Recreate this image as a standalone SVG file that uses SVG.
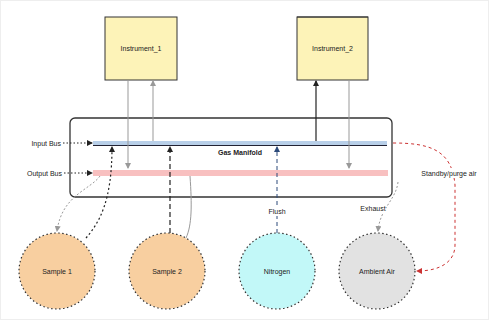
<svg xmlns="http://www.w3.org/2000/svg" width="489" height="320" viewBox="0 0 489 320">
  <style>
    text { font-family: "Liberation Sans", Arial, sans-serif; font-size: 7px; fill: #222; }
    .instr { fill: #fdf3b8; stroke: #333; stroke-width: 1; }
    .sample { stroke: #333; stroke-width: 1.2; stroke-dasharray: 1.5 2.5; }
    .gray { fill: none; stroke: #999; stroke-width: 1; }
    .dark { fill: none; stroke: #222; stroke-width: 1.2; }
  </style>
  <defs>
    <marker id="ag" markerWidth="6" markerHeight="6" refX="5" refY="3" orient="auto" markerUnits="userSpaceOnUse">
      <path d="M0,0 L6,3 L0,6 z" fill="#999"/>
    </marker>
    <marker id="ad" markerWidth="6" markerHeight="6" refX="5" refY="3" orient="auto" markerUnits="userSpaceOnUse">
      <path d="M0,0 L6,3 L0,6 z" fill="#222"/>
    </marker>
    <marker id="ab" markerWidth="6" markerHeight="6" refX="5" refY="3" orient="auto" markerUnits="userSpaceOnUse">
      <path d="M0,0 L6,3 L0,6 z" fill="#2c4a7a"/>
    </marker>
    <marker id="ar" markerWidth="6" markerHeight="6" refX="5" refY="3" orient="auto" markerUnits="userSpaceOnUse">
      <path d="M0,0 L6,3 L0,6 z" fill="#c33"/>
    </marker>
  </defs>

  <rect width="489" height="320" fill="#fff" stroke="#eee" stroke-width="2"/>

  <!-- manifold enclosure and buses -->
  <g id="manifold">
    <rect x="70" y="118" width="322" height="79" rx="5" fill="none" stroke="#333" stroke-width="1.3"/>
    <rect x="93" y="141" width="294" height="4" fill="#b8cfe8"/>
    <line x1="93" y1="145.5" x2="387" y2="145.5" stroke="#223" stroke-width="1"/>
    <rect x="93" y="170" width="295" height="6" fill="#f8c0c0"/>
    <text x="240" y="155" text-anchor="middle" font-weight="bold">Gas Manifold</text>
  </g>

  <g id="input_bus_label">
    <text x="61" y="145.5" text-anchor="end">Input Bus</text>
  </g>
  <g id="output_bus_label">
    <text x="62" y="175.5" text-anchor="end">Output Bus</text>
  </g>

  <g id="instrument_1">
    <rect class="instr" x="105" y="17" width="72" height="63"/>
    <text x="141" y="51" text-anchor="middle">Instrument_1</text>
  </g>
  <g id="instrument_2">
    <rect class="instr" x="297" y="17" width="71" height="63" stroke="#e8e0b0"/>
    <line x1="297" y1="17" x2="368" y2="17" stroke="#333" stroke-width="1"/>
    <text x="332.5" y="51" text-anchor="middle">Instrument_2</text>
  </g>

  <g id="sample_1">
    <circle class="sample" cx="57" cy="271" r="38" fill="#f8cfa0"/>
    <text x="57" y="273.5" text-anchor="middle">Sample 1</text>
  </g>
  <g id="sample_2">
    <circle class="sample" cx="167" cy="271" r="38" fill="#f8cfa0"/>
    <text x="167" y="273.5" text-anchor="middle">Sample 2</text>
  </g>
  <g id="nitrogen">
    <circle class="sample" cx="277" cy="271" r="38" fill="#c2f8f8"/>
    <text x="277" y="273.5" text-anchor="middle">Nitrogen</text>
  </g>
  <g id="ambient_air">
    <circle class="sample" cx="377" cy="271" r="38" fill="#e2e2e2"/>
    <text x="377" y="273.5" text-anchor="middle">Ambient Air</text>
  </g>

  <g id="connectors">
    <!-- bus labels into buses -->
    <line x1="63" y1="143" x2="92" y2="143" stroke="#222" stroke-width="1" stroke-dasharray="1.5 2" marker-end="url(#ad)"/>
    <line x1="64" y1="173" x2="92" y2="173" stroke="#222" stroke-width="1" stroke-dasharray="1.5 2" marker-end="url(#ad)"/>

    <!-- instrument 1 -->
    <line class="gray" x1="128" y1="80" x2="128" y2="168" marker-end="url(#ag)"/>
    <line class="gray" x1="153" y1="141" x2="153" y2="81" stroke="#777" marker-end="url(#ag)"/>

    <!-- instrument 2 -->
    <line class="dark" x1="316" y1="141" x2="316" y2="81" marker-end="url(#ad)"/>
    <line class="gray" x1="349" y1="80" x2="349" y2="168" marker-end="url(#ag)"/>

    <!-- sample 1 -->
    <path d="M100,176 C90,190 62,195 57,231" class="gray" stroke-dasharray="2 2" marker-end="url(#ag)"/>
    <path d="M86,238 C100,222 112,200 112,147" class="dark" stroke-dasharray="2 2.5" marker-end="url(#ad)"/>

    <!-- sample 2 -->
    <line class="dark" x1="170" y1="233" x2="170" y2="147" stroke-dasharray="5 3" marker-end="url(#ad)"/>
    <path d="M190,176 C192,205 192,225 186,238" class="gray" stroke="#aaa"/>

    <!-- nitrogen flush -->
    <line x1="277" y1="233" x2="277" y2="147" stroke="#2c4a7a" stroke-width="1" stroke-dasharray="4 3" marker-end="url(#ab)"/>
    <rect x="266" y="207" width="22" height="9" fill="#fff"/>
    <text x="277" y="214" text-anchor="middle">Flush</text>

    <!-- exhaust -->
    <path d="M398,182 C396,200 380,208 378,231" class="gray" stroke-dasharray="2 2" marker-end="url(#ag)"/>
    <rect x="360" y="204" width="26" height="9" fill="#fff"/>
    <text x="373" y="211" text-anchor="middle">Exhaust</text>

    <!-- standby / purge air loop -->
    <path d="M393,143 C430,143 452,150 455,185 L455,245 C455,262 440,271 417,271" fill="none" stroke="#c33" stroke-width="1" stroke-dasharray="3 3" marker-end="url(#ar)"/>
    <rect x="414" y="168" width="70" height="10" fill="#fff"/>
    <text x="449" y="175.5" text-anchor="middle">Standby/purge air</text>
  </g>
</svg>
